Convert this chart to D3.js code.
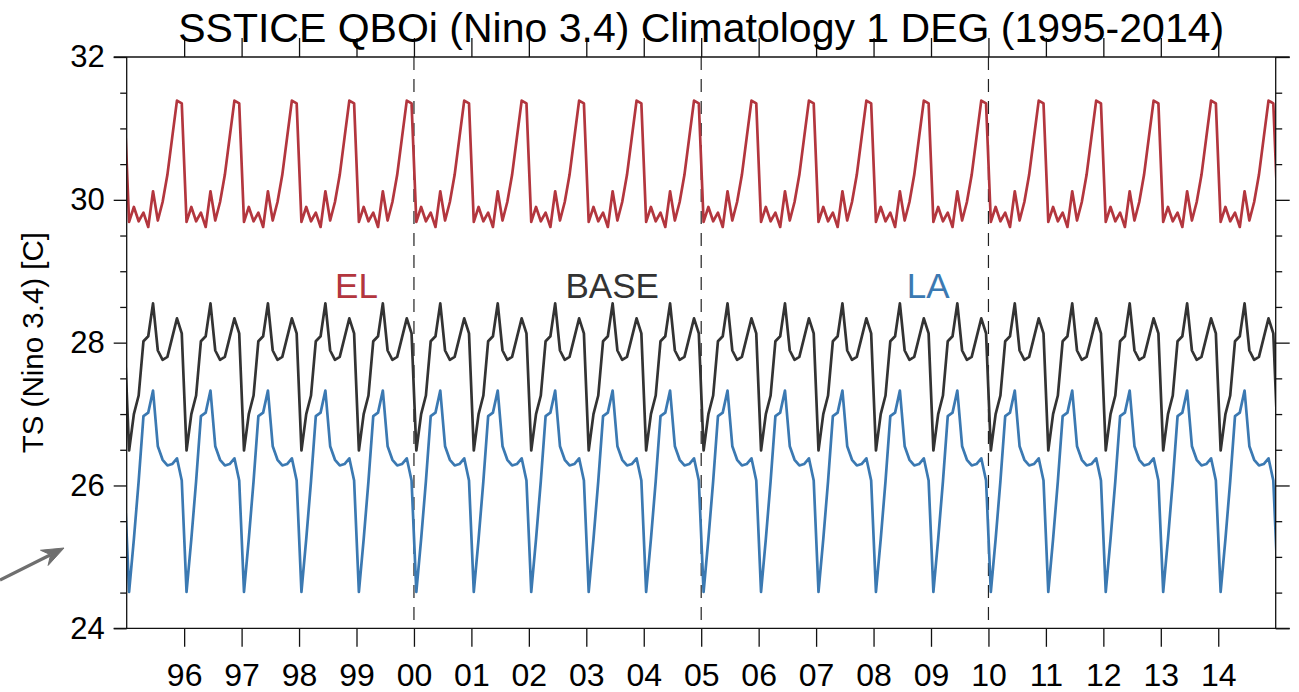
<!DOCTYPE html>
<html>
<head>
<meta charset="utf-8">
<script src="https://cdn.jsdelivr.net/npm/d3@7/dist/d3.min.js"></script>
<style>
  html, body { margin: 0; padding: 0; background: #fff; }
  svg { display: block; font-family: "Liberation Sans", Arial, Helvetica, sans-serif; }
</style>
</head>
<body>
<div id="chart"></div>
<script>
// Nino 3.4 TS climatology [C], one value per month (Jan..Dec)
const months = ["Jan", "Feb", "Mar", "Apr", "May", "Jun", "Jul", "Aug", "Sep", "Oct", "Nov", "Dec"];
const elClim   = [29.69, 29.90, 29.70, 29.82, 29.62, 30.12, 29.71, 29.97, 30.35, 30.87, 31.39, 31.35];
const baseClim = [26.49, 27.00, 27.26, 28.02, 28.09, 28.55, 27.89, 27.76, 27.80, 28.07, 28.34, 28.13];
const laClim   = [24.51, 25.25, 26.06, 26.97, 27.02, 27.33, 26.55, 26.36, 26.28, 26.30, 26.38, 26.07];

// same climatology every year; Dec 1994 and Jan 2015 run the curves into the frame edges
const years = [1994, 1995, 1996, 1997, 1998, 1999, 2000, 2001, 2002, 2003, 2004,
               2005, 2006, 2007, 2008, 2009, 2010, 2011, 2012, 2013, 2014, 2015];

const tickYears  = [1996, 1997, 1998, 1999, 2000, 2001, 2002, 2003, 2004, 2005,
                    2006, 2007, 2008, 2009, 2010, 2011, 2012, 2013, 2014];
const tickLabels = ["96", "97", "98", "99", "00", "01", "02", "03", "04", "05",
                    "06", "07", "08", "09", "10", "11", "12", "13", "14"];
const dashedYears = [2000, 2005, 2010];

const yMajor = [24, 26, 28, 30, 32];
const yMinor = [24.5, 25, 25.5, 26.5, 27, 27.5, 28.5, 29, 29.5, 30.5, 31, 31.5];

const seriesNames  = ["EL", "BASE", "LA"];
const seriesClims  = [elClim, baseClim, laClim];
const seriesColors = ["#b3363e", "#333333", "#3b79b2"];

const title = "SSTICE QBOi (Nino 3.4) Climatology 1 DEG (1995-2014)";
const yTitle = "TS (Nino 3.4) [C]";

// layout
const config = {
    width: 1299, height: 692,
    left: 126.7, right: 1275.7, top: 57, bottom: 628.3,
    majorTick: 13, minorTick: 6.5, xTick: 18.5,
    yFont: 31, xFont: 32
};

const x = d3.scaleLinear().domain([1995, 2015]).range([config.left, config.right]);
const y = d3.scaleLinear().domain([24, 32]).range([config.bottom, config.top]);

const svg = d3.select("#chart").append("svg")
    .attr("width", config.width)
    .attr("height", config.height);

svg.append("defs").append("clipPath").attr("id", "plotclip")
    .append("rect")
    .attr("x", config.left).attr("y", 0)
    .attr("width", config.right - config.left).attr("height", config.height);

// dashed year markers
svg.append("g").selectAll("line")
    .data(dashedYears)
    .join("line")
    .attr("x1", d => x(d)).attr("x2", d => x(d))
    .attr("y1", config.top).attr("y2", config.bottom)
    .attr("stroke", "#222")
    .attr("stroke-width", 1.2)
    .attr("stroke-dasharray", "13,9");

// curves
const line = d3.line()
    .x(d => x(d.t))
    .y(d => y(d.v));

const series = seriesClims.map(clim =>
    years.flatMap(yr => clim.map((v, m) => ({ t: yr + (m + 0.5) / months.length, v: v })))
);

svg.append("g")
    .attr("clip-path", "url(#plotclip)")
    .selectAll("path")
    .data(series)
    .join("path")
    .attr("d", line)
    .attr("fill", "none")
    .attr("stroke", (d, i) => seriesColors[i])
    .attr("stroke-width", 2.7)
    .attr("stroke-linejoin", "round");

// axes
function styleAxis(size) {
    return g => {
        g.select(".domain").remove();
        g.selectAll(".tick line").attr("stroke", "#111").attr("stroke-width", 1.3);
        g.selectAll("text")
            .attr("fill", "#000")
            .style("font-family", "\"Liberation Sans\", Arial, Helvetica, sans-serif")
            .style("font-size", size + "px");
    };
}

svg.append("g")
    .attr("transform", `translate(${config.left},0)`)
    .call(d3.axisLeft(y).tickValues(yMajor).tickFormat(d3.format("d"))
        .tickSize(config.majorTick).tickPadding(9))
    .call(styleAxis(config.yFont));

svg.append("g")
    .attr("transform", `translate(${config.left},0)`)
    .call(d3.axisLeft(y).tickValues(yMinor).tickFormat("").tickSize(config.minorTick))
    .call(styleAxis(config.yFont));

svg.append("g")
    .attr("transform", `translate(${config.right},0)`)
    .call(d3.axisRight(y).tickValues(yMajor).tickFormat("").tickSize(config.majorTick + 1))
    .call(styleAxis(config.yFont));

svg.append("g")
    .attr("transform", `translate(${config.right},0)`)
    .call(d3.axisRight(y).tickValues(yMinor).tickFormat("").tickSize(config.minorTick))
    .call(styleAxis(config.yFont));

svg.append("g")
    .attr("transform", `translate(0,${config.bottom})`)
    .call(d3.axisBottom(x).tickValues(tickYears).tickFormat((d, i) => tickLabels[i])
        .tickSize(config.xTick).tickPadding(16))
    .call(styleAxis(config.xFont));

svg.append("g")
    .attr("transform", `translate(0,${config.top})`)
    .call(d3.axisTop(x).tickValues(tickYears).tickFormat("").tickSize(config.xTick + 0.5))
    .call(styleAxis(config.xFont));

// frame
const frame = svg.append("g").attr("stroke", "#111").attr("stroke-width", 1.3);
frame.append("line").attr("x1", config.left).attr("x2", config.left).attr("y1", config.top).attr("y2", config.bottom);
frame.append("line").attr("x1", config.right).attr("x2", config.right).attr("y1", config.top).attr("y2", config.bottom);
frame.append("line").attr("x1", config.left - config.majorTick).attr("x2", config.right + config.majorTick + 1)
    .attr("y1", config.top).attr("y2", config.top);
frame.append("line").attr("x1", config.left - config.majorTick).attr("x2", config.right + config.majorTick + 1)
    .attr("y1", config.bottom).attr("y2", config.bottom);

// title and axis title
svg.append("text")
    .attr("x", (config.left + config.right) / 2)
    .attr("y", 41.5)
    .attr("text-anchor", "middle")
    .style("font-size", "41px")
    .text(title);

svg.append("text")
    .attr("transform", `translate(43,${(config.top + config.bottom) / 2}) rotate(-90)`)
    .attr("text-anchor", "middle")
    .style("font-size", "29.5px")
    .text(yTitle);

// series labels
const labelPos = [[1999.0, 28.8], [2003.45, 28.8], [2008.95, 28.8]];
svg.append("g").selectAll("text")
    .data(seriesNames)
    .join("text")
    .attr("x", (d, i) => x(labelPos[i][0]))
    .attr("y", (d, i) => y(labelPos[i][1]) + 12.5)
    .attr("text-anchor", "middle")
    .attr("fill", (d, i) => seriesColors[i])
    .style("font-size", "35px")
    .text(d => d);

// grey arrow in the lower left corner
const tip = [64, 548], tail = [0, 580];
const len = Math.hypot(tip[0] - tail[0], tip[1] - tail[1]);
const ux = (tip[0] - tail[0]) / len, uy = (tip[1] - tail[1]) / len;
const headLen = 22, halfW = 8.5, notch = 15;
const back = [tip[0] - headLen * ux, tip[1] - headLen * uy];
const arrowG = svg.append("g").attr("fill", "#6f6f6f").attr("stroke", "#6f6f6f");
arrowG.append("line")
    .attr("x1", tail[0]).attr("y1", tail[1])
    .attr("x2", tip[0] - notch * ux).attr("y2", tip[1] - notch * uy)
    .attr("stroke-width", 3.2);
arrowG.append("path")
    .attr("stroke-width", 1)
    .attr("d", d3.line()([
        tip,
        [back[0] - halfW * uy, back[1] + halfW * ux],
        [tip[0] - notch * ux, tip[1] - notch * uy],
        [back[0] + halfW * uy, back[1] - halfW * ux]
    ]) + "Z");
</script>
</body>
</html>
